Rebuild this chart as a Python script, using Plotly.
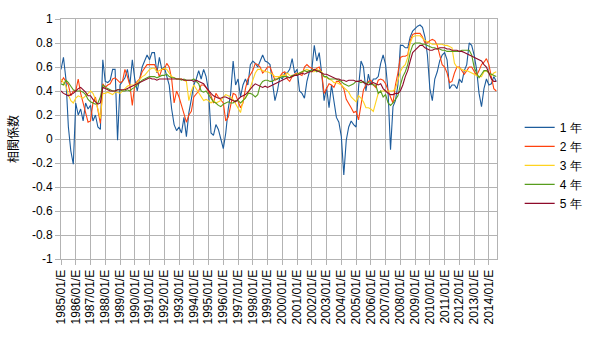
import plotly.graph_objects as go

# ---- data (2-month sampling, month index from 1985/01) ----
years = list(range(1985, 2015))
tick_labels = [f"{y}/01/E" for y in years]
series_names = ["1 年", "2 年", "3 年", "4 年", "5 年"]
colors = ["#1d5c9c", "#ff420e", "#ffd320", "#579d1c", "#8e0a2a"]

y1 = [0.58, 0.68, 0.5, 0.1, -0.1, -0.21, 0.3, 0.2, 0.25, 0.15, 0.3, 0.25, 0.28, 0.15, 0.2, 0.1, 0.08, 0.66, 0.48, 0.47,
      0.49, 0.58, 0.58, -0.01, 0.45, 0.48, 0.51, 0.58, 0.45, 0.66,
      0.5, 0.4, 0.5, 0.6, 0.65, 0.7, 0.66, 0.72, 0.72, 0.55, 0.68, 0.58, 0.6, 0.53, 0.45, 0.25, 0.12, 0.07, 0.1, 0.05,
      0.18, 0.02, 0.22, 0.33, 0.45, 0.5, 0.57, 0.5, 0.58, 0.52,
      0.4, 0.05, 0.03, 0.12, 0.08, 0.0, -0.08, 0.05, 0.25, 0.38, 0.65, 0.45, 0.5, 0.35, 0.45, 0.5, 0.45, 0.62, 0.65, 0.63,
      0.6, 0.65, 0.7, 0.65, 0.64, 0.62, 0.45, 0.32, 0.4, 0.52,
      0.5, 0.55, 0.55, 0.58, 0.67, 0.55, 0.58, 0.4, 0.38, 0.34, 0.48, 0.56, 0.58, 0.78, 0.65, 0.72, 0.55, 0.32, 0.43, 0.26,
      0.45, 0.32, 0.18, 0.14, 0.02, -0.3, -0.01, 0.1, 0.15, 0.12,
      0.1, 0.43, 0.65, 0.6, 0.4, 0.54, 0.45, 0.5, 0.5, 0.52, 0.63, 0.7, 0.62, 0.4, -0.09, 0.27, 0.32, 0.45, 0.78, 0.78,
      0.76, 0.76, 0.85, 0.9, 0.92, 0.94, 0.95, 0.93, 0.85, 0.7,
      0.42, 0.32, 0.5, 0.56, 0.65, 0.7, 0.72, 0.66, 0.42, 0.45, 0.45, 0.42, 0.5, 0.47, 0.57, 0.62, 0.8, 0.78, 0.7, 0.58,
      0.38, 0.27, 0.42, 0.5, 0.45, 0.46, 0.52, 0.48]

y2 = [0.47, 0.51, 0.48, 0.45, 0.36, 0.4, 0.4, 0.5, 0.38, 0.3, 0.2, 0.14, 0.15, 0.3, 0.35, 0.25, 0.13, 0.46, 0.43, 0.45,
      0.46, 0.5, 0.51, 0.49, 0.47, 0.48, 0.58, 0.52, 0.45, 0.28,
      0.45, 0.48, 0.5, 0.56, 0.59, 0.62, 0.62, 0.62, 0.62, 0.58, 0.52, 0.58, 0.58, 0.63, 0.6, 0.5, 0.3, 0.4, 0.35, 0.28,
      0.2, 0.14, 0.2, 0.23, 0.35, 0.38, 0.4, 0.45, 0.45, 0.43,
      0.4, 0.36, 0.3, 0.38, 0.35, 0.32, 0.3, 0.15, 0.18, 0.28, 0.38, 0.37, 0.32, 0.26, 0.3, 0.42, 0.5, 0.54, 0.57, 0.63,
      0.62, 0.6, 0.55, 0.57, 0.6, 0.6, 0.55, 0.49, 0.5, 0.52,
      0.55, 0.56, 0.5, 0.48, 0.52, 0.54, 0.55, 0.54, 0.53, 0.6, 0.62, 0.6, 0.59, 0.57, 0.59, 0.6, 0.55, 0.38, 0.42, 0.46,
      0.45, 0.43, 0.48, 0.48, 0.45, 0.42, 0.33, 0.3, 0.26, 0.22,
      0.23, 0.16, 0.3, 0.41, 0.45, 0.48, 0.49, 0.45, 0.43, 0.49, 0.5, 0.49, 0.46, 0.4, 0.35, 0.3, 0.45, 0.55, 0.68, 0.69,
      0.69, 0.7, 0.82, 0.87, 0.88, 0.88, 0.88, 0.85, 0.8, 0.8,
      0.82, 0.83, 0.82, 0.78, 0.7, 0.62, 0.6, 0.55, 0.47, 0.48, 0.55, 0.6, 0.6, 0.57, 0.54, 0.57, 0.6, 0.6, 0.57, 0.53,
      0.57, 0.62, 0.64, 0.67, 0.62, 0.52, 0.42, 0.4]

y3 = [0.5, 0.47, 0.44, 0.37, 0.32, 0.3, 0.34, 0.36, 0.35, 0.34, 0.36, 0.38, 0.4, 0.38, 0.33, 0.25, 0.17, 0.38, 0.38, 0.39,
      0.38, 0.37, 0.39, 0.39, 0.38, 0.4, 0.42, 0.44, 0.45, 0.45,
      0.45, 0.47, 0.5, 0.52, 0.53, 0.56, 0.58, 0.59, 0.59, 0.56, 0.57, 0.58, 0.59, 0.58, 0.55, 0.52, 0.51, 0.5, 0.5, 0.5,
      0.49, 0.48, 0.32, 0.4, 0.45, 0.42, 0.38, 0.35, 0.32, 0.33,
      0.32, 0.3, 0.32, 0.3, 0.31, 0.32, 0.35, 0.37, 0.36, 0.35, 0.33, 0.29, 0.26, 0.22, 0.32, 0.35, 0.37, 0.43, 0.5, 0.55,
      0.58, 0.58, 0.57, 0.56, 0.56, 0.55, 0.54, 0.52, 0.52, 0.52,
      0.53, 0.53, 0.55, 0.53, 0.52, 0.53, 0.54, 0.55, 0.56, 0.57, 0.58, 0.57, 0.56, 0.56, 0.58, 0.57, 0.56, 0.52, 0.51, 0.5,
      0.49, 0.47, 0.47, 0.46, 0.45, 0.43, 0.41, 0.39, 0.35, 0.33,
      0.31, 0.36, 0.34, 0.31, 0.26, 0.26, 0.25, 0.23, 0.3, 0.38, 0.4, 0.4, 0.4, 0.4, 0.4, 0.4, 0.42, 0.5, 0.56, 0.6,
      0.62, 0.68, 0.8, 0.85, 0.86, 0.86, 0.86, 0.84, 0.82, 0.81,
      0.8, 0.79, 0.79, 0.79, 0.79, 0.79, 0.78, 0.78, 0.77, 0.76, 0.63, 0.6, 0.59, 0.58, 0.57, 0.57, 0.56, 0.55, 0.54, 0.53,
      0.52, 0.52, 0.56, 0.57, 0.55, 0.53, 0.55, 0.56]

y4 = [0.46, 0.45, 0.49, 0.47, 0.44, 0.41, 0.4, 0.4, 0.4, 0.39, 0.37, 0.33, 0.31, 0.3, 0.29, 0.3, 0.35, 0.45, 0.43, 0.42,
      0.41, 0.4, 0.4, 0.41, 0.41, 0.4, 0.4, 0.41, 0.4, 0.42,
      0.43, 0.45, 0.47, 0.49, 0.5, 0.51, 0.52, 0.52, 0.52, 0.51, 0.52, 0.53, 0.53, 0.54, 0.52, 0.51, 0.51, 0.5, 0.5, 0.49,
      0.5, 0.49, 0.49, 0.49, 0.5, 0.48, 0.46, 0.4, 0.39, 0.4,
      0.37, 0.33, 0.31, 0.3, 0.28, 0.27, 0.29, 0.3, 0.31, 0.3, 0.3, 0.32, 0.32, 0.3, 0.32, 0.34, 0.38, 0.38, 0.37, 0.35,
      0.37, 0.45, 0.48, 0.49, 0.49, 0.48, 0.48, 0.5, 0.5, 0.51,
      0.52, 0.52, 0.52, 0.51, 0.53, 0.53, 0.54, 0.55, 0.56, 0.57, 0.56, 0.57, 0.57, 0.58, 0.56, 0.57, 0.55, 0.52, 0.52, 0.5,
      0.5, 0.5, 0.5, 0.49, 0.48, 0.46, 0.45, 0.44, 0.45, 0.46,
      0.48, 0.48, 0.47, 0.48, 0.46, 0.47, 0.46, 0.45, 0.45, 0.38, 0.4, 0.35, 0.37, 0.3, 0.28, 0.3, 0.33, 0.36, 0.45, 0.52,
      0.56, 0.62, 0.72, 0.78, 0.8, 0.8, 0.8, 0.79, 0.79, 0.78,
      0.77, 0.76, 0.76, 0.75, 0.75, 0.74, 0.74, 0.73, 0.73, 0.73, 0.73, 0.73, 0.73, 0.74, 0.74, 0.74, 0.74, 0.7, 0.6, 0.55,
      0.51, 0.54, 0.57, 0.57, 0.55, 0.54, 0.53, 0.52]

y5 = [0.4, 0.38, 0.37, 0.36, 0.37, 0.38, 0.4, 0.42, 0.43, 0.41, 0.39, 0.36, 0.36, 0.33, 0.31, 0.29, 0.3, 0.43, 0.42, 0.41,
      0.4, 0.4, 0.4, 0.41, 0.41, 0.41, 0.41, 0.42, 0.43, 0.44,
      0.45, 0.46, 0.47, 0.48, 0.49, 0.5, 0.51, 0.5, 0.5, 0.49, 0.5, 0.5, 0.5, 0.5, 0.5, 0.5, 0.5, 0.5, 0.5, 0.5,
      0.49, 0.49, 0.49, 0.49, 0.48, 0.49, 0.48, 0.47, 0.46, 0.43,
      0.4, 0.38, 0.36, 0.35, 0.34, 0.34, 0.35, 0.35, 0.34, 0.33, 0.32, 0.31, 0.33, 0.35, 0.36, 0.37, 0.39, 0.42, 0.44, 0.46,
      0.45, 0.44, 0.43, 0.44, 0.43, 0.44, 0.45, 0.46, 0.47, 0.48,
      0.49, 0.5, 0.51, 0.51, 0.52, 0.53, 0.53, 0.54, 0.55, 0.54, 0.55, 0.56, 0.56, 0.58, 0.57, 0.56, 0.55, 0.54, 0.54, 0.53,
      0.52, 0.51, 0.5, 0.5, 0.49, 0.49, 0.48, 0.49, 0.49, 0.49,
      0.48, 0.48, 0.49, 0.47, 0.46, 0.45, 0.46, 0.47, 0.46, 0.45, 0.46, 0.42, 0.4, 0.38, 0.37, 0.37, 0.38, 0.38, 0.4, 0.45,
      0.52, 0.57, 0.65, 0.72, 0.74, 0.76, 0.78, 0.78, 0.76, 0.75,
      0.74, 0.74, 0.75, 0.75, 0.76, 0.76, 0.76, 0.75, 0.75, 0.74, 0.74, 0.74, 0.73, 0.73, 0.72, 0.71, 0.7, 0.69, 0.68, 0.67,
      0.66, 0.65, 0.62, 0.6, 0.55, 0.5, 0.48, 0.48]

all_series = [y1, y2, y3, y4, y5]
step_months = 2

fig = go.Figure()
for name, col, ys in zip(series_names, colors, all_series):
    xs = [i * step_months for i in range(len(ys))]
    fig.add_trace(go.Scatter(x=xs, y=ys, mode="lines", name=name,
                             line=dict(color=col, width=1.1)))

grid = "#b3b3b3"
fig.update_layout(
    width=600, height=337,
    margin=dict(l=61, r=93, t=17, b=76),
    paper_bgcolor="white", plot_bgcolor="white",
    font=dict(family="Liberation Sans, Arial, sans-serif", size=12, color="black"),
    showlegend=True,
    legend=dict(x=1.052, xanchor="left", y=0.39, yanchor="middle",
                font=dict(size=12), bgcolor="rgba(0,0,0,0)", borderwidth=0),
    xaxis=dict(
        range=[0, 354.6],
        tickmode="array",
        tickvals=[12 * k for k in range(len(years))],
        ticktext=tick_labels,
        tickangle=-90,
        showgrid=True, gridcolor=grid, gridwidth=1,
        ticks="outside", ticklen=5, tickcolor=grid,
        showline=True, linecolor=grid, mirror=True,
        zeroline=False,
        tickfont=dict(size=12),
    ),
    yaxis=dict(
        range=[-1, 1],
        tickmode="array",
        tickvals=[-1, -0.8, -0.6, -0.4, -0.2, 0, 0.2, 0.4, 0.6, 0.8, 1],
        ticktext=["-1", "-0.8", "-0.6", "-0.4", "-0.2", "0", "0.2", "0.4", "0.6", "0.8", "1"],
        showgrid=True, gridcolor=grid, gridwidth=1,
        ticks="outside", ticklen=5, tickcolor=grid,
        showline=True, linecolor=grid, mirror=True,
        zeroline=False,
        tickfont=dict(size=12),
        title=dict(text="相関係数", standoff=10,
                   font=dict(family="Noto Sans CJK JP, sans-serif", size=12)),
    ),
)

fig.write_html("out.html")
